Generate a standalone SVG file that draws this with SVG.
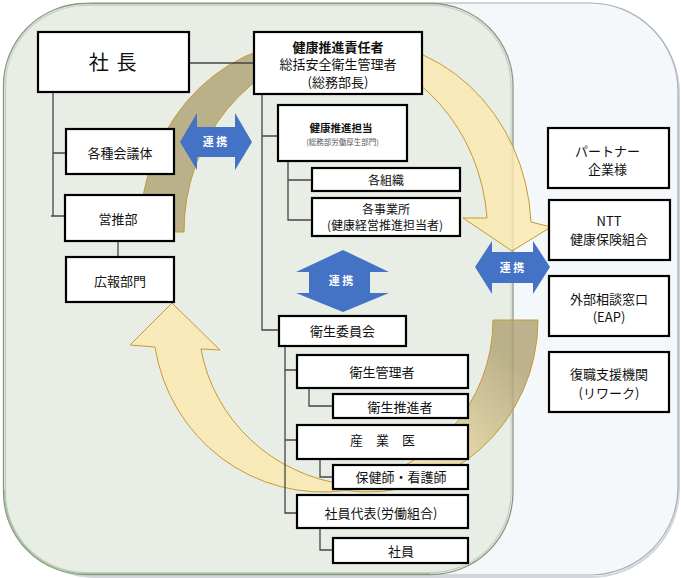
<svg xmlns="http://www.w3.org/2000/svg" width="681" height="578" viewBox="0 0 681 578">
<defs>
<style>
.box{fill:#fff;stroke:#000;stroke-width:2.2}
.t{font-family:"Noto Sans CJK JP","Noto Sans",sans-serif;font-size:13px;fill:#111;text-anchor:middle}
.s12{font-size:12px}
.b{font-weight:bold}
.c{stroke:#454545;stroke-width:1.3;fill:none}
.blue{fill:#4472c4}
.bt{font-family:"Noto Sans CJK JP","Noto Sans",sans-serif;font-size:11px;font-weight:bold;fill:#fff;text-anchor:middle}
.arc{stroke:#c29b32;stroke-width:1;fill-opacity:0.8}
</style>
<linearGradient id="gUp" gradientUnits="userSpaceOnUse" x1="250" y1="0" x2="420" y2="0">
<stop offset="0" stop-color="#afa172"/><stop offset="1" stop-color="#fce8ae"/>
</linearGradient>
<linearGradient id="gLo" gradientUnits="userSpaceOnUse" x1="530" y1="380" x2="420" y2="480">
<stop offset="0" stop-color="#afa172"/><stop offset="1" stop-color="#fce8ae"/>
</linearGradient>
</defs>

<g id="panels">
<rect x="7" y="5" width="672" height="572" rx="88" fill="none" stroke="#d2d6da" stroke-width="2"/>
<rect x="5" y="3" width="673" height="572" rx="88" fill="#f5f8fb" stroke="#a9b0b8" stroke-width="1.2"/>
<rect x="3.5" y="3.5" width="509.5" height="571" rx="82" fill="#e8eee6" stroke="#8a9886" stroke-width="1.3"/>
<rect x="5.5" y="5.5" width="505.5" height="567" rx="80" fill="none" stroke="#c3d2bf" stroke-width="1.2"/>
<path d="M4.5,490 A80 82 0 0 0 86,573.5 H430" fill="none" stroke="#9fbf97" stroke-width="1.2"/>
</g>

<g id="flows">
<path class="arc" fill="url(#gUp)" d="M140,232 A173.5 191 0 0 1 335.5,42.5 A173.5 191 0 0 1 531,222 L551,227 L512,251 L463,218 L487,218 A173.5 186 0 0 0 335.5,47.5 A173.5 186 0 0 0 184,232 Z"/>
<path class="arc" fill="url(#gLo)" d="M493,320 L538,320 A170 172 0 0 1 345.5,490.5 A170 172 0 0 1 155,347 L130,345 L172,303 L220,350 L201,349 A170 166 0 0 0 345.5,484.5 A170 166 0 0 0 493,320 Z"/>
</g>

<g id="connectors">
<path class="c" d="M189,63 H254"/>
<path class="c" d="M53,92 V216 M53,153 H66 M51,216 H65"/>
<path class="c" d="M118,241 V257"/>
<path class="c" d="M262,94 V330 H279 M262,136 H278"/>
<path class="c" d="M288,161 V220 H312 M288,180 H312"/>
<path class="c" d="M285,346 V513 H297 M285,370 H297 M285,440 H297"/>
<path class="c" d="M309,388 V406 H333"/>
<path class="c" d="M320,459 V477 H333"/>
<path class="c" d="M320,528 V550 H333"/>
</g>

<g id="n-president"><rect class="box" x="38" y="32" width="151" height="60"/><text class="t" x="113.5" y="70" style="font-size:20px;letter-spacing:1.6px">社 長</text></g>
<g id="n-manager"><rect class="box" x="254" y="32" width="168" height="62"/>
<text class="t b" x="338" y="51.5">健康推進責任者</text>
<text class="t" x="338" y="69">総括安全衛生管理者</text>
<text class="t" x="338" y="86.5">(総務部長)</text></g>
<g id="n-kaigi"><rect class="box" x="66" y="129" width="108" height="45"/><text class="t" x="120" y="158">各種会議体</text></g>
<g id="n-eisui"><rect class="box" x="65" y="195" width="109" height="46"/><text class="t" x="118" y="224">営推部</text></g>
<g id="n-koho"><rect class="box" x="66" y="257" width="108" height="45"/><text class="t" x="120" y="285.5">広報部門</text></g>
<g id="n-tanto"><rect class="box" x="278" y="105" width="129" height="56"/>
<text class="t b" x="341" y="132" style="font-size:10.5px">健康推進担当</text>
<text class="t" x="342.5" y="144.5" style="font-size:7.5px;fill:#555">(総務部労働厚生部門)</text></g>
<g id="n-soshiki"><rect class="box" x="312" y="168" width="148" height="23"/><text class="t s12" x="386" y="185">各組織</text></g>
<g id="n-jigyosho"><rect class="box" x="312" y="198" width="148" height="38"/>
<text class="t s12" x="386" y="213.5">各事業所</text>
<text class="t s12" x="385" y="229.5">(健康経営推進担当者)</text></g>
<g id="n-iinkai"><rect class="box" x="279" y="316" width="127" height="30"/><text class="t" x="342.5" y="336">衛生委員会</text></g>
<g id="n-kanrisha"><rect class="box" x="297" y="355" width="171" height="33"/><text class="t" x="382" y="376.5">衛生管理者</text></g>
<g id="n-suishinsha"><rect class="box" x="333" y="394" width="135" height="24"/><text class="t" x="400" y="411.5">衛生推進者</text></g>
<g id="n-sangyoi"><rect class="box" x="297" y="425" width="171" height="34"/><text class="t" x="382.5" y="445">産　業　医</text></g>
<g id="n-hokenshi"><rect class="box" x="333" y="465" width="135" height="24"/><text class="t" x="401" y="482">保健師・看護師</text></g>
<g id="n-daihyo"><rect class="box" x="297" y="495" width="171" height="33"/><text class="t" x="381" y="517.5">社員代表(労働組合)</text></g>
<g id="n-shain"><rect class="box" x="333" y="538" width="135" height="25"/><text class="t" x="401" y="555.5">社員</text></g>

<g id="n-partner"><rect class="box" x="548" y="128" width="121" height="60"/>
<text class="t" x="607.5" y="155.5">パートナー</text><text class="t" x="607.5" y="173.5">企業様</text></g>
<g id="n-ntt"><rect class="box" x="549" y="200" width="121" height="60"/>
<text class="t" x="609" y="226">NTT</text><text class="t" x="609" y="244">健康保険組合</text></g>
<g id="n-eap"><rect class="box" x="549" y="276" width="120" height="60"/>
<text class="t" x="609" y="304">外部相談窓口</text><text class="t" x="609" y="321.5">(EAP)</text></g>
<g id="n-rework"><rect class="box" x="549" y="352" width="120" height="60"/>
<text class="t" x="609" y="379">復職支援機関</text><text class="t" x="609" y="397.5">(リワーク)</text></g>

<g id="link-left"><path class="blue" d="M180,142 L197,113 L197,127 L235,127 L235,113 L252,142 L235,170 L235,157 L197,157 L197,170 Z"/><text class="bt" x="215" y="146">連 携</text></g>
<g id="link-center"><path class="blue" d="M343,250 L389,272 L370,272 L370,293 L389,293 L343,312 L296,293 L309,293 L309,272 L296,272 Z"/><text class="bt" x="341" y="285">連 携</text></g>
<g id="link-right"><path class="blue" d="M475,267 L492,241 L492,252 L533,252 L533,241 L550,267 L533,294 L533,283 L492,283 L492,294 Z"/><text class="bt" x="512" y="272">連 携</text></g>
</svg>
